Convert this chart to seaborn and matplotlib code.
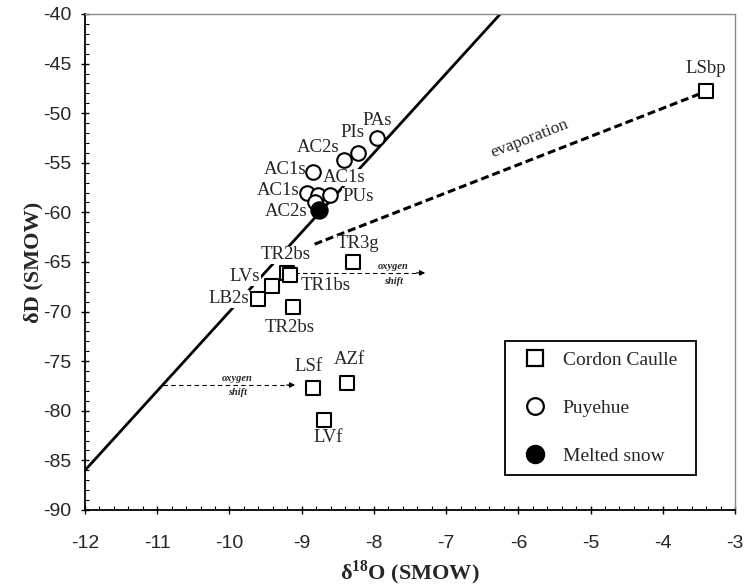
import math
import matplotlib
matplotlib.use("Agg")
import matplotlib.pyplot as plt
import matplotlib.ticker as mticker
from matplotlib.lines import Line2D
import seaborn as sns

# Cordon Caulle waters
cc_names = ['LSbp', 'TR3g', 'TR2bs', 'TR1bs', 'LVs', 'LB2s', 'TR2bs', 'LSf', 'AZf', 'LVf']
cc_d18o = [-3.40, -8.29, -9.20, -9.16, -9.41, -9.60, -9.12, -8.84, -8.37, -8.69]
cc_dD = [-47.8, -65.0, -66.1, -66.3, -67.4, -68.7, -69.5, -77.7, -77.2, -80.9]
cc_offsets = [(0, 23), (5, 18), (-2, 18), (36, -11), (-27, 9), (-30, 0), (-3, -21),
              (-5, 21), (2, 24), (4, -18)]

# Puyehue waters
py_names = ['PAs', 'PIs', 'AC2s', 'AC1s', 'AC1s', 'AC1s', 'PUs', 'AC2s']
py_d18o = [-7.96, -8.22, -8.41, -8.84, -8.93, -8.77, -8.61, -8.81]
py_dD = [-52.5, -54.0, -54.7, -55.9, -58.0, -58.2, -58.2, -59.0]
py_offsets = [(0, 17), (-6, 20), (-26, 12), (-28, 2), (-29, 2), (26, 17), (28, -2), (-29, -9)]

# Melted snow
snow_d18o = [-8.76]
snow_dD = [-59.8]

# Meteoric water line and evaporation trend
gmwl_d18o = [-12.0, -6.25]
gmwl_dD = [-86.0, -40.0]
evap_d18o = [-8.82, -3.40]
evap_dD = [-63.2, -47.8]

# Oxygen-shift arrows: (start d18O, end d18O, dD)
shifts = [(-9.2, -7.29, -66.1), (-10.92, -9.09, -77.4)]
shift_text_pos = [(-7.73, -65.5, -67.0), (-9.89, -76.7, -78.2)]

x_ticks = list(range(-12, -2))
y_ticks = list(range(-90, -39, 5))

sns.set_style("ticks")
plt.rcParams['font.family'] = ['Liberation Serif', 'DejaVu Serif']
plt.rcParams['mathtext.fontset'] = 'custom'
plt.rcParams['mathtext.rm'] = 'Liberation Serif'
plt.rcParams['mathtext.bf'] = 'Liberation Serif:bold'

fig = plt.figure(figsize=(7.44, 5.88), dpi=100)
ax = fig.add_axes([85 / 744, 1 - 510 / 588, 650 / 744, 496 / 588])
ax.set_xlim(-12, -3)
ax.set_ylim(-90, -40)

# lines
sns.lineplot(x=gmwl_d18o, y=gmwl_dD, color='black', lw=2.0, ax=ax, zorder=2)
ax.plot(evap_d18o, evap_dD, color='black', lw=2.2, dashes=(2.6, 1.3), zorder=2)

for (x0, x1, yv), (tx, ty1, ty2) in zip(shifts, shift_text_pos):
    ax.plot([x0, x1 - 0.05], [yv, yv], color='black', lw=0.8, dashes=(4, 3), zorder=1)
    ax.annotate('', xy=(x1, yv), xytext=(x1 - 0.12, yv),
                arrowprops=dict(arrowstyle='-|>', lw=0.8, color='black',
                                mutation_scale=8, shrinkA=0, shrinkB=0), zorder=1)
    ax.text(tx, ty1, 'oxygen', fontsize=7.5, fontstyle='italic', fontweight='bold',
            ha='center', va='center')
    ax.text(tx, ty2, 'shift', fontsize=7.5, fontstyle='italic', fontweight='bold',
            ha='center', va='center')

# sample points
sns.scatterplot(x=cc_d18o, y=cc_dD, marker='s', s=110, color='white',
                edgecolor='black', linewidth=1.5, ax=ax, zorder=4)
sns.scatterplot(x=py_d18o, y=py_dD, marker='o', s=110, color='white',
                edgecolor='black', linewidth=1.5, ax=ax, zorder=4)
sns.scatterplot(x=snow_d18o, y=snow_dD, marker='o', s=150, color='black',
                edgecolor='black', linewidth=1.0, ax=ax, zorder=5)

label_box = dict(facecolor='white', edgecolor='none', pad=0.3)
for names, xs, ys, offs in [(cc_names, cc_d18o, cc_dD, cc_offsets),
                            (py_names, py_d18o, py_dD, py_offsets)]:
    for n, xv, yv, (dx, dy) in zip(names, xs, ys, offs):
        ax.annotate(n, (xv, yv), xytext=(dx, dy), textcoords='offset pixels',
                    ha='center', va='center', fontsize=13.5, bbox=label_box, zorder=3)

# evaporation label along the dashed trend
p0 = ax.transData.transform((evap_d18o[0], evap_dD[0]))
p1 = ax.transData.transform((evap_d18o[1], evap_dD[1]))
ang = math.degrees(math.atan2(p1[1] - p0[1], p1[0] - p0[0]))
ax.text(-5.84, -52.6, 'evaporation', rotation=ang, rotation_mode='anchor',
        ha='center', va='center', fontsize=12.5)

# axes styling
ax.set_xticks(x_ticks)
ax.set_yticks(y_ticks)
ax.xaxis.set_minor_locator(mticker.MultipleLocator(0.2))
ax.yaxis.set_minor_locator(mticker.MultipleLocator(1))
ax.tick_params(axis='both', which='major', direction='inout', length=6, width=1.0,
               color='black')
ax.tick_params(axis='both', which='minor', direction='in', length=3, width=0.8,
               color='black')
ax.tick_params(axis='x', which='major', pad=15)
ax.tick_params(axis='y', which='major', pad=7)
ax.xaxis.set_major_formatter(mticker.FuncFormatter(lambda v, p: f'{v:.0f}'))
ax.yaxis.set_major_formatter(mticker.FuncFormatter(lambda v, p: f'{v:.0f}'))

for side in ['left', 'bottom']:
    ax.spines[side].set_color('black')
    ax.spines[side].set_linewidth(1.3)
for side in ['top', 'right']:
    ax.spines[side].set_visible(True)
    ax.spines[side].set_color('#8a8a8a')
    ax.spines[side].set_linewidth(1.0)

ax.set_xlabel(r'δ$^{\mathbf{18}}$O (SMOW)', fontsize=16, fontweight='bold')
ax.set_ylabel('δD (SMOW)', fontsize=16, fontweight='bold')
ax.xaxis.label.set_verticalalignment('center')
ax.yaxis.label.set_verticalalignment('center')
ax.xaxis.set_label_coords(0.5, -0.127)
ax.yaxis.set_label_coords(-0.080, 0.5)

handles = [
    Line2D([], [], ls='none', marker='s', ms=12, mfc='white', mec='black', mew=1.6),
    Line2D([], [], ls='none', marker='o', ms=12, mfc='white', mec='black', mew=1.6),
    Line2D([], [], ls='none', marker='o', ms=13, mfc='black', mec='black', mew=1.0),
]
leg = ax.legend(handles, ['Cordon Caulle', 'Puyehue', 'Melted snow'],
                loc='upper left', bbox_to_anchor=(0.646, 0.0726, 0.294, 0.2686),
                mode='expand', borderaxespad=0, fontsize=14, frameon=True,
                fancybox=False, framealpha=1, edgecolor='black', borderpad=0.55,
                labelspacing=1.55, handlelength=2.0, handletextpad=0.42)
leg.get_frame().set_linewidth(1.3)

for lab in ax.get_xticklabels() + ax.get_yticklabels():
    lab.set_fontfamily('Liberation Sans')
    lab.set_fontsize(14)

fig.savefig('out.png', dpi=100)
